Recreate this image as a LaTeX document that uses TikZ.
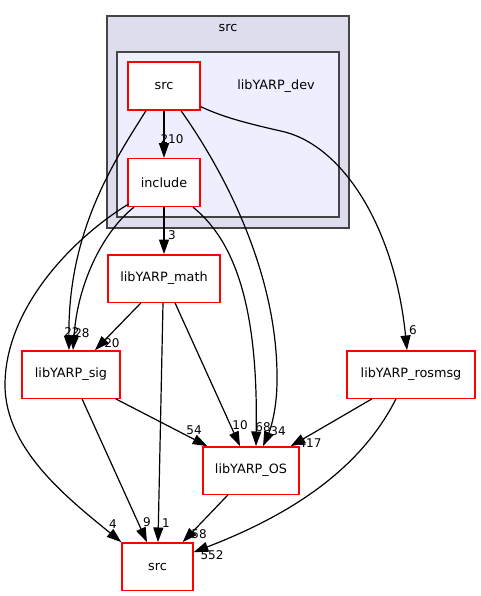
\documentclass[tikz,border=0pt]{standalone}
\usepackage{fontspec}
\setmainfont{DejaVu Sans}
\usetikzlibrary{arrows.meta,calc}
\definecolor{clouter}{HTML}{DDDDEE}
\definecolor{clinner}{HTML}{EEEEFF}
\definecolor{clborder}{HTML}{444444}
\begin{document}
\begin{tikzpicture}[x=0.75pt,y=-0.75pt,
  cluster/.style={draw=clborder,line width=1.4pt},
  dirnode/.style={draw=red,fill=white,line width=1pt,inner sep=0pt,
     minimum height=35.5pt,font=\fontsize{9.6}{11}\selectfont},
  clabel/.style={inner sep=0pt,font=\fontsize{9.6}{11}\selectfont},
  elabel/.style={inner sep=0pt,font=\fontsize{9}{10}\selectfont},
  dep/.style={draw=black,line width=0.9pt,-{Triangle[length=11pt,width=7.5pt]}}]
\useasboundingbox (0,0) rectangle (480,596);
% clusters
\draw[cluster,fill=clouter] (107,16) rectangle (349,228);
\node[clabel] (outerlbl) at (228,28) {src};
\draw[cluster,fill=clinner] (117,52) rectangle (339,217);
\node[clabel] (innerlbl) at (276,86) {libYARP\_dev};
% nodes
\node[dirnode,minimum width=54pt,minimum height=36pt] (srcin) at (164,86) {src};
\node[dirnode,minimum width=54pt,minimum height=36pt] (incl) at (164,182.5) {include};
\node[dirnode,minimum width=84pt] (math) at (164,278.5) {libYARP\_math};
\node[dirnode,minimum width=73.5pt] (sig) at (71,374.5) {libYARP\_sig};
\node[dirnode,minimum width=72pt] (os) at (251,470.5) {libYARP\_OS};
\node[dirnode,minimum width=96pt] (ros) at (411,374.5) {libYARP\_rosmsg};
\node[dirnode,minimum width=53.25pt] (srcb) at (157.5,566.5) {src};
% edges
\draw[dep] (srcin.south) -- (incl.north);
\draw[dep] ($(srcin.south)+(-18,0)$) .. controls (115,160) and (68,230) .. ($(sig.north)+(-2,0)$);
\draw[dep] ($(incl.south)+(-30,0)$) .. controls (105,230) and (78,280) .. ($(sig.north)+(2,0)$);
\draw[dep] ($(incl.south west)+(1,-3)$) .. controls (70,240) and (5,310) .. (5,385) .. controls (5,450) and (70,500) .. (srcb.north west);
\draw[dep] ($(srcin.south)+(17,0)$) .. controls (230,180) and (278,280) .. (277,380) .. controls (277,415) and (268,435) .. ($(os.north)+(12,0)$);
\draw[dep] ($(incl.south)+(29,0)$) .. controls (240,245) and (258,320) .. ($(os.north)+(5,0)$);
\draw[dep] ($(srcin.south east)+(0,-4)$) .. controls (225,118) and (250,124) .. (285,132) .. controls (345,148) and (395,230) .. ($(ros.north)+(-4,0)$);
\draw[dep] (incl.south) -- (math.north);
\draw[dep] ($(math.south)+(-23,0)$) -- ($(sig.north)+(24,0)$);
\draw[dep] ($(math.south)+(11,0)$) -- ($(os.north)+(-11,0)$);
\draw[dep] ($(math.south)+(-1,0)$) -- ($(srcb.north)+(0.5,0)$);
\draw[dep] ($(sig.south east)+(-5,0)$) -- ($(os.north west)+(5,0)$);
\draw[dep] ($(sig.south)+(11,0)$) -- ($(srcb.north)+(-10.5,0)$);
\draw[dep] ($(os.south)+(-23,0)$) -- ($(srcb.north east)+(-11,0)$);
\draw[dep] ($(ros.south)+(-39,0)$) -- ($(os.north east)+(-9,0)$);
\draw[dep] ($(ros.south)+(-15,0)$) .. controls (360,470) and (290,515) .. ($(srcb.north east)+(0,10)$);
% edge labels
\node[elabel] (l210) at (172,139) {210};
\node[elabel] (l3) at (172,235) {3};
\node[elabel] (l22) at (72,332) {22};
\node[elabel] (l28) at (82,333) {28};
\node[elabel] (l20) at (112,343) {20};
\node[elabel] (l6) at (413,330) {6};
\node[elabel] (l54) at (194,430) {54};
\node[elabel] (l10) at (240,425) {10};
\node[elabel] (l68) at (263,427) {68};
\node[elabel] (l34) at (278,431) {34};
\node[elabel] (l417) at (310,443) {417};
\node[elabel] (l58) at (199,534) {58};
\node[elabel] (l552) at (212,555) {552};
\node[elabel] (l4) at (113,524) {4};
\node[elabel] (l9) at (147,522) {9};
\node[elabel] (l1) at (166,523) {1};
\end{tikzpicture}
\end{document}
